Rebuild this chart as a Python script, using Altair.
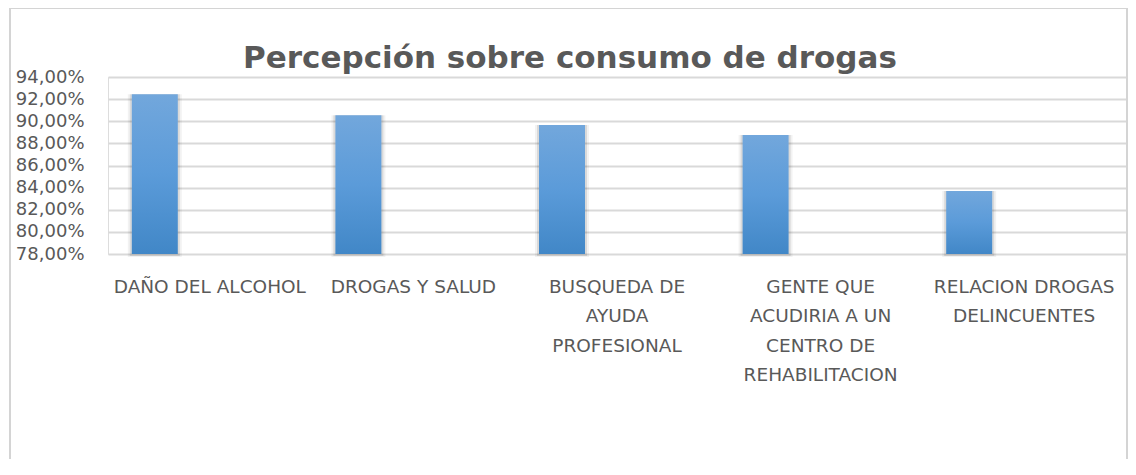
import altair as alt
import pandas as pd

categories = [
    "DAÑO DEL ALCOHOL",
    "DROGAS Y SALUD",
    "BUSQUEDA DE AYUDA PROFESIONAL",
    "GENTE QUE ACUDIRIA A UN CENTRO DE REHABILITACION",
    "RELACION DROGAS DELINCUENTES",
]
label_lines = [
    ["DAÑO DEL ALCOHOL"],
    ["DROGAS Y SALUD"],
    ["BUSQUEDA DE", "AYUDA", "PROFESIONAL"],
    ["GENTE QUE", "ACUDIRIA A UN", "CENTRO DE", "REHABILITACION"],
    ["RELACION DROGAS", "DELINCUENTES"],
]
values = [0.9245, 0.9055, 0.8965, 0.8875, 0.8370]
y_ticks = [0.78, 0.80, 0.82, 0.84, 0.86, 0.88, 0.90, 0.92, 0.94]
title_text = "Percepción sobre consumo de drogas"

df = pd.DataFrame({"cat": categories, "val": values})
title_df = pd.DataFrame({"title": [title_text]})

# label expression mapping categories to wrapped lines
expr = "''"
for c, lines in reversed(list(zip(categories, label_lines))):
    arr = "[" + ",".join("'" + l + "'" for l in lines) + "]"
    expr = f"datum.value == '{c}' ? {arr} : ({expr})"

TXT = "#595959"
GRID = "#d9d9d9"

x_enc = alt.X(
    "cat:N",
    sort=categories,
    title=None,
    scale=alt.Scale(paddingInner=0, paddingOuter=0),
    axis=alt.Axis(
        labelAngle=0,
        labelExpr=expr,
        labelFont="DejaVu Sans",
        labelFontSize=18.5,
        labelColor=TXT,
        labelLineHeight=29.5,
        labelBaseline="middle",
        labelPadding=32,
        labelLimit=400,
        domain=False,
        ticks=False,
        grid=False,
    ),
)
y_enc = alt.Y(
    "val:Q",
    title=None,
    scale=alt.Scale(domain=[0.78, 0.94], nice=False, zero=False),
    axis=alt.Axis(
        values=y_ticks,
        labelExpr="replace(format(datum.value, '.2%'), '.', ',')",
        labelFont="DejaVu Sans",
        labelFontSize=18,
        labelColor=TXT,
        labelPadding=24,
        domain=False,
        ticks=False,
        grid=True,
        gridColor=GRID,
        gridWidth=2,
    ),
)

base = alt.Chart(df)

border = alt.Chart(title_df).mark_rect(
    fill=None, stroke="#d4d4d4", strokeWidth=2
).encode(
    x=alt.value(-98), x2=alt.value(1019), y=alt.value(-69), y2=alt.value(520)
)

title = alt.Chart(title_df).mark_text(
    font="DejaVu Sans",
    fontSize=31,
    fontWeight="bold",
    color=TXT,
    align="center",
    baseline="alphabetic",
).encode(x=alt.value(462), y=alt.value(-9), text="title:N")

shadow1 = base.mark_bar(
    xOffset=-55, width=54, color="#000000", opacity=0.05, y2Offset=3
).encode(x=x_enc, y=y_enc, y2=alt.datum(0.78))
shadow2 = base.mark_bar(
    xOffset=-55, width=50, color="#000000", opacity=0.10, y2Offset=2
).encode(x=x_enc, y=y_enc, y2=alt.datum(0.78))

bars = base.mark_bar(
    xOffset=-55,
    width=46,
    color=alt.Gradient(
        gradient="linear",
        x1=0, x2=0, y1=0, y2=1,
        stops=[
            alt.GradientStop(color="#72a7dc", offset=0),
            alt.GradientStop(color="#5b9bd9", offset=0.5),
            alt.GradientStop(color="#4187c7", offset=1),
        ],
    ),
).encode(x=x_enc, y=y_enc, y2=alt.datum(0.78))

chart = alt.layer(border, shadow1, shadow2, bars, title).properties(
    width=1018,
    height=177,
    autosize=alt.AutoSizeParams(type="none"),
    padding={"left": 100, "top": 69, "right": 2, "bottom": 205},
).configure_view(stroke=None).configure(background="white")

chart.save("out.html", embed_options={"renderer": "svg", "actions": False})
